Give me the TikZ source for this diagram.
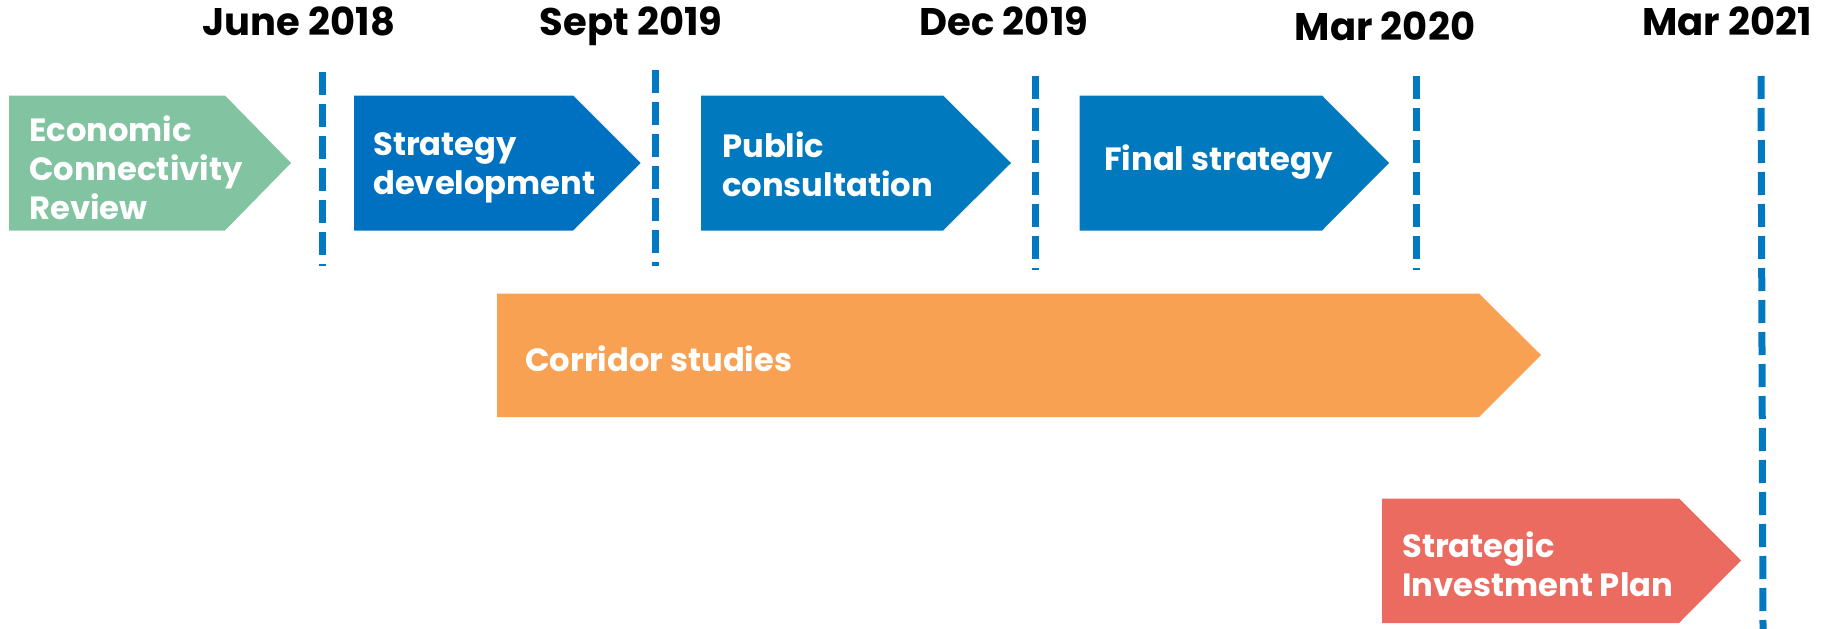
\documentclass[tikz,border=0pt]{standalone}
\usepackage{fontspec}
\setmainfont{Poppins}
\definecolor{cgreen}{HTML}{82C3A2}
\definecolor{cblue}{HTML}{0070C0}
\definecolor{cblueb}{HTML}{0079BE}
\definecolor{corange}{HTML}{F9A153}
\definecolor{cred}{HTML}{EB6B61}
\definecolor{cdash}{HTML}{0079C1}
\begin{document}
\begin{tikzpicture}[x=1pt,y=-1pt,
  date/.style={font=\fontsize{38.5}{42}\selectfont\bfseries, text=black, anchor=base, inner sep=0pt},
  boxtext/.style={font=\fontsize{32.2}{39}\selectfont\bfseries, text=white, anchor=west, align=left, inner sep=0pt},
  timeline/.style={draw=cdash, line width=7pt, dash pattern=on 23pt off 9pt},
]
\useasboundingbox (0,0) rectangle (1826,629);
% chevrons
\fill[cgreen]  (9,95.5) -- (225,95.5) -- (291,163) -- (225,230.5) -- (9,230.5) -- cycle;
\fill[cblue]   (354,95.5) -- (573,95.5) -- (640.5,163) -- (573,230.5) -- (354,230.5) -- cycle;
\fill[cblueb]  (701,95.5) -- (943,95.5) -- (1011,163) -- (943,230.5) -- (701,230.5) -- cycle;
\fill[cblueb]  (1079.5,95.5) -- (1322,95.5) -- (1389,163) -- (1322,230.5) -- (1079.5,230.5) -- cycle;
\fill[corange] (497,293.5) -- (1479,293.5) -- (1541,355) -- (1479,417) -- (497,417) -- cycle;
\fill[cred]    (1382,498.5) -- (1679,498.5) -- (1741,560.5) -- (1679,623) -- (1382,623) -- cycle;
% box texts
\node[boxtext] (ecr) at (29,168) {Economic\\Connectivity\\Review};
\node[boxtext] (sd)  at (373,168) {Strategy\\development};
\node[boxtext] (pc)  at (722,164) {Public\\consultation};
\node[boxtext] (fs)  at (1104,162) {Final strategy};
\node[boxtext] (cs)  at (525,359) {Corridor studies};
\node[boxtext] (sip) at (1402,564) {Strategic\\Investment Plan};
% timeline markers
\coordinate (t1a) at (322.5,72);   \coordinate (t1b) at (322.5,266);
\coordinate (t2a) at (655.5,70);   \coordinate (t2b) at (655.5,266);
\coordinate (t3a) at (1035,76);    \coordinate (t3b) at (1035,270);
\coordinate (t4a) at (1416,76);    \coordinate (t4b) at (1416,270);
\coordinate (t5a) at (1761,76);    \coordinate (t5b) at (1763,629);
\draw[timeline] (t1a) -- (t1b);
\draw[timeline] (t2a) -- (t2b);
\draw[timeline] (t3a) -- (t3b);
\draw[timeline] (t4a) -- (t4b);
\draw[timeline] (t5a) -- (t5b);
% dates
\node[date] (d1) at (299,35) {June 2018};
\node[date] (d2) at (631,35) {Sept 2019};
\node[date] (d3) at (1004,35) {Dec 2019};
\node[date] (d4) at (1385,40) {Mar 2020};
\node[date] (d5) at (1727,35) {Mar 2021};
\end{tikzpicture}
\end{document}
